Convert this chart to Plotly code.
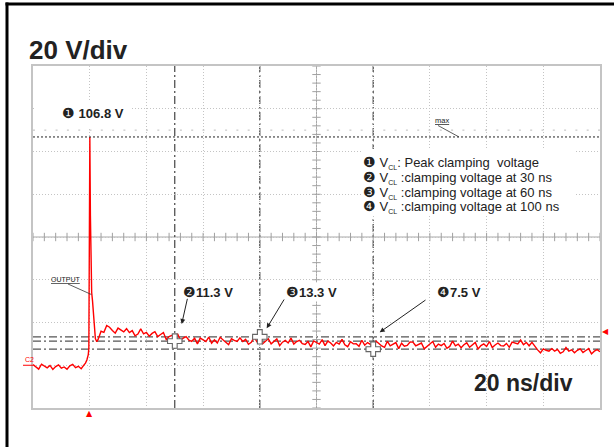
import plotly.graph_objects as go

# ---------------- data ----------------
# time in ns (0 = trigger), voltage in V
t_pre = list(range(-20, -1))
v_pre = [0.3, -0.9, -1.8, 0.5, -0.4, -1.2, -0.1, -2.0, -0.6, 0.2,
         -1.4, -0.8, -1.9, -0.3, 0.4, -1.1, -0.5, -1.6, 0.2]

t_pulse = [-1.5, -1.0, -0.5, -0.3, -0.15, 0.05, 0.25, 0.45, 0.7, 1.0, 1.3, 1.6, 2.0, 2.5, 3.0]
v_pulse = [1.0, 2.5, 5.0, 8.0, 40.0, 106.8, 70.0, 40.0, 34.0, 30.0, 24.0, 17.0, 12.5, 11.0, 12.2]

t_post = list(range(4, 181))
v_post = [
    15.9, 15.4, 18.6, 17.8, 16.3, 15.0, 17.4, 16.4, 15.6, 17.1,
    15.3, 16.2, 13.8, 14.6, 17.0, 14.7, 15.4, 13.6, 14.9, 15.7,
    13.4, 14.4, 15.3, 12.0, 13.4, 14.0, 12.6, 14.7, 11.7, 12.7,
    13.4, 11.7, 11.2, 12.6, 10.0, 12.7, 12.0, 11.1, 13.2, 10.3,
    11.9, 10.4, 13.1, 11.8, 10.8, 9.7, 12.4, 11.6, 11.1, 12.8,
    11.1, 12.1, 9.8, 10.7, 13.2, 11.0, 11.8, 10.1, 11.5, 12.4,
    10.0, 11.2, 12.3, 9.2, 10.8, 11.6, 10.4, 12.7, 9.9, 11.1,
    11.7, 10.1, 9.7, 11.1, 8.6, 11.4, 10.7, 9.9, 12.0, 9.2,
    11.3, 10.4, 9.0, 10.7, 9.9, 12.1, 9.6, 8.7, 11.0, 10.0,
    10.1, 8.9, 11.7, 9.4, 10.6, 9.8, 8.2, 11.3, 10.2, 9.0,
    8.4, 11.2, 9.1, 9.9, 10.6, 7.8, 10.3, 8.9, 9.3, 10.9,
    10.8, 9.1, 9.6, 10.4, 7.7, 8.8, 9.8, 11.1, 8.4, 9.9,
    9.2, 10.2, 7.9, 8.8, 11.3, 9.1, 9.9, 8.2, 9.6, 10.5,
    8.4, 9.6, 10.7, 7.6, 9.2, 10.0, 8.8, 11.1, 8.3, 9.5,
    10.4, 9.2, 9.0, 10.2, 8.4, 10.8, 10.5, 10.0, 11.8, 9.6,
    10.7, 9.1, 10.7, 8.8, 7.2, 5.8, 7.7, 7.0, 6.6, 7.8,
    6.6, 7.4, 5.6, 6.3, 8.3, 6.6, 7.2, 5.8, 7.0, 7.7,
    6.0, 6.9, 7.8, 5.3, 6.6, 7.3, 6.3,
]

# cursor measurements
cursor_t = [30, 60, 100]
cursor_v = [11.3, 13.3, 7.5]
cursor_nums = ["❷", "❸", "❹"]
cursor_texts = ["11.3 V", "13.3 V", "7.5 V"]
peak_v = 106.8
legend_nums = ["❶", "❷", "❸", "❹"]
legend_texts = [": Peak clamping \u00a0voltage",
                " :clamping voltage at 30 ns",
                " :clamping voltage at 60 ns",
                " :clamping voltage at 100 ns"]
trig_level = 15.7

# axis settings: 20 ns/div, 20 V/div
T_MIN, T_MAX, T_DIV = -20, 180, 20
V_MIN, V_MAX, V_DIV = -20, 140, 20

# ---------------- layout helpers ----------------
W, H = 614, 447
ML, MR, MT, MB = 33, 14, 66, 39
PW, PH = W - ML - MR, H - MT - MB
PX_PER_NS = PW / (T_MAX - T_MIN)
PX_PER_V = PH / (V_MAX - V_MIN)


def px(x):
    return (x - ML) / PW


def py(y):
    return (H - MB - y) / PH


def dt(xpix):
    return T_MIN + (xpix - ML) / PX_PER_NS


def dv(ypix):
    return V_MIN + (H - MB - ypix) / PX_PER_V


FONT = "Arial, Liberation Sans, sans-serif"
INK = "#222222"

t_all = t_pre + t_pulse + t_post
v_all = v_pre + v_pulse + v_post

fig = go.Figure()

# center-line minor ticks
t_center = (T_MIN + T_MAX) / 2
v_center = (V_MIN + V_MAX) / 2
minor_t = [T_MIN + i * T_DIV / 5 for i in range(int((T_MAX - T_MIN) / (T_DIV / 5)) + 1)]
minor_v = [V_MIN + i * V_DIV / 5 for i in range(int((V_MAX - V_MIN) / (V_DIV / 5)) + 1)]
fig.add_trace(go.Scatter(x=minor_t, y=[v_center] * len(minor_t), mode="markers",
                         marker=dict(symbol="line-ns", size=6, line=dict(color="#a0a0a0", width=1)),
                         hoverinfo="skip", showlegend=False))
fig.add_trace(go.Scatter(x=[t_center] * len(minor_v), y=minor_v, mode="markers",
                         marker=dict(symbol="line-ew", size=6, line=dict(color="#a0a0a0", width=1)),
                         hoverinfo="skip", showlegend=False))

# waveform
fig.add_trace(go.Scatter(x=t_all, y=v_all, mode="lines",
                         line=dict(color="#ff0000", width=1.4),
                         hoverinfo="skip", showlegend=False))

# cursor crosses
fig.add_trace(go.Scatter(x=cursor_t, y=cursor_v, mode="markers",
                         marker=dict(symbol="cross", size=12, color="white",
                                     line=dict(color="#666666", width=1.1)),
                         hoverinfo="skip", showlegend=False))

shapes = []
# center lines
shapes.append(dict(type="line", xref="x", yref="paper", x0=t_center, x1=t_center, y0=0, y1=1,
                   line=dict(color="#a8a8a8", width=1), layer="below"))
shapes.append(dict(type="line", xref="paper", yref="y", x0=0, x1=1, y0=v_center, y1=v_center,
                   line=dict(color="#a8a8a8", width=1), layer="below"))
# cursor lines
for tc in cursor_t:
    shapes.append(dict(type="line", xref="x", yref="paper", x0=tc, x1=tc, y0=0, y1=1,
                       line=dict(color="#444444", width=1.2, dash="8px,3px,2px,3px"), layer="below"))
for vc in cursor_v:
    shapes.append(dict(type="line", xref="paper", yref="y", x0=0, x1=1, y0=vc, y1=vc,
                       line=dict(color="#555555", width=1.2, dash="8px,3px,2px,3px"), layer="below"))
# max line and faint dotted line above it
shapes.append(dict(type="line", xref="paper", yref="y", x0=0, x1=1, y0=peak_v, y1=peak_v,
                   line=dict(color="#222222", width=1, dash="2px,2px"), layer="above"))
shapes.append(dict(type="line", xref="paper", yref="y", x0=0, x1=1, y0=110, y1=110,
                   line=dict(color="#bbbbbb", width=1, dash="2px,9.3px"), layer="below"))
# C2 ground marker line
shapes.append(dict(type="line", xref="paper", yref="y", x0=px(23), x1=0, y0=0, y1=0,
                   line=dict(color="#ff0000", width=1)))
# leader lines for OUTPUT and max labels
shapes.append(dict(type="line", xref="x", yref="y", x0=dt(68), y0=dv(284), x1=0.6, y1=33.1,
                   line=dict(color="#333333", width=0.8)))
shapes.append(dict(type="line", xref="x", yref="y", x0=dt(438), y0=dv(125.5), x1=dt(459), y1=peak_v,
                   line=dict(color="#333333", width=0.8)))
# white boxes behind texts
shapes.append(dict(type="rect", xref="paper", yref="paper", x0=px(361), x1=px(576),
                   y0=py(216), y1=py(149), fillcolor="white", line=dict(width=0), layer="above"))
shapes.append(dict(type="rect", xref="paper", yref="paper", x0=px(34), x1=px(131),
                   y0=py(127), y1=py(100), fillcolor="white", line=dict(width=0), layer="above"))
# outer black frame (top and left)
shapes.append(dict(type="line", xref="paper", yref="paper", x0=px(5.5), x1=px(614), y0=py(4), y1=py(4),
                   line=dict(color="black", width=3)))
shapes.append(dict(type="line", xref="paper", yref="paper", x0=px(7), x1=px(7), y0=py(2.5), y1=py(447),
                   line=dict(color="black", width=3)))


def circ(n):
    return "<span style='font-size:14px'>" + n + "</span>"


ann = []
ann.append(dict(text="<b>20 V/div</b>", xref="paper", yref="paper", x=px(27), y=py(50),
                xanchor="left", yanchor="middle", showarrow=False,
                font=dict(family=FONT, size=26, color=INK)))
ann.append(dict(text="<b>20 ns/div</b>", xref="paper", yref="paper", x=px(472), y=py(383),
                xanchor="left", yanchor="middle", showarrow=False,
                font=dict(family=FONT, size=23, color=INK)))
ann.append(dict(text=circ("❶") + "<b> %.1f V</b>" % peak_v, xref="paper", yref="paper",
                x=px(60), y=py(113), xanchor="left", yanchor="middle", showarrow=False,
                font=dict(family=FONT, size=13, color=INK)))
leg_y = [162.5, 177.5, 192, 206.5]
for num, txt, yy in zip(legend_nums, legend_texts, leg_y):
    ann.append(dict(text=circ(num) + " V<sub><span style='font-size:7px'>CL</span></sub>" + txt,
                    xref="paper", yref="paper", x=px(361), y=py(yy),
                    xanchor="left", yanchor="middle", showarrow=False,
                    font=dict(family=FONT, size=13, color=INK)))
label_x = [181, 284, 435]
for num, txt, lx in zip(cursor_nums, cursor_texts, label_x):
    ann.append(dict(text=circ(num) + "<b>" + txt + "</b>", xref="paper", yref="paper",
                    x=px(lx), y=py(291.5), xanchor="left", yanchor="middle",
                    showarrow=False, bgcolor="white",
                    font=dict(family=FONT, size=13, color=INK)))
# arrows to cursor points
arrow_heads = [(dt(181.7), dv(324), 6, -26.7),
               (dt(266.7), dv(328.3), 18.3, -30.3),
               (dt(379.7), dv(332.3), 47.3, -33.3)]
for hx, hy, axo, ayo in arrow_heads:
    ann.append(dict(text="", x=hx, y=hy, xref="x", yref="y", ax=axo, ay=ayo,
                    showarrow=True, arrowhead=2, arrowsize=1, arrowwidth=1, arrowcolor=INK))
# OUTPUT label
ann.append(dict(text="<u>OUTPUT</u>", xref="paper", yref="paper", x=px(65.5), y=py(279.5),
                xanchor="center", yanchor="middle", showarrow=False,
                font=dict(family=FONT, size=7, color=INK)))
# max label
ann.append(dict(text="<u>max</u>", xref="paper", yref="paper", x=px(442), y=py(120.5),
                xanchor="center", yanchor="middle", showarrow=False,
                font=dict(family=FONT, size=7.5, color=INK)))
# C2
ann.append(dict(text="C2", xref="paper", yref="paper", x=px(29), y=py(359.5),
                xanchor="center", yanchor="middle", showarrow=False,
                font=dict(family=FONT, size=7, color="#ff0000")))
# trigger position / level markers
ann.append(dict(text="▲", xref="x", yref="paper", x=0, y=py(413), xanchor="center", yanchor="middle",
                showarrow=False, font=dict(family="DejaVu Sans", size=8, color="#ff0000")))
ann.append(dict(text="◀", xref="paper", yref="y", x=px(605), y=trig_level, xanchor="center",
                yanchor="middle", showarrow=False,
                font=dict(family="DejaVu Sans", size=8, color="#ff0000")))

axis_common = dict(showgrid=True, griddash="1px,2px", gridcolor="#c4c4c4", gridwidth=1,
                   showticklabels=False, ticks="", zeroline=False,
                   showline=True, linecolor="#c4c4c4", linewidth=1.5, mirror=True)

fig.update_layout(
    width=W, height=H, autosize=False,
    margin=dict(l=ML, r=MR, t=MT, b=MB),
    paper_bgcolor="white", plot_bgcolor="white",
    xaxis=dict(range=[T_MIN, T_MAX], tick0=T_MIN, dtick=T_DIV, **axis_common),
    yaxis=dict(range=[V_MIN, V_MAX], tick0=V_MIN, dtick=V_DIV, **axis_common),
    shapes=shapes, annotations=ann, showlegend=False,
)

fig.write_html(
    "out.html", config={"displayModeBar": False},
    post_script=("document.body.style.margin='0px';"
                 "document.body.style.overflow='hidden';"
                 "document.documentElement.style.overflow='hidden';"))
